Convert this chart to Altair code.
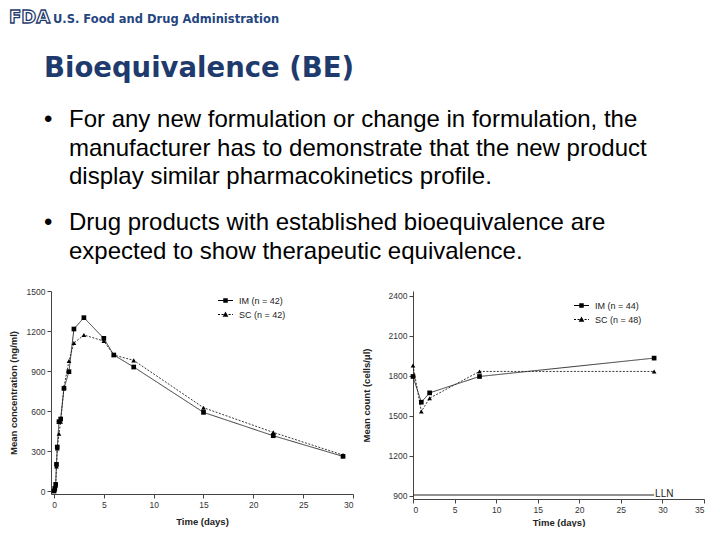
import altair as alt
import pandas as pd

# ---------------- slide text ----------------
agency_text = "U.S. Food and Drug Administration"
logo_text = "FDA"
title_text = "Bioequivalence (BE)"
bullet1_lines = [
    "For any new formulation or change in formulation, the",
    "manufacturer has to demonstrate that the new product",
    "display similar pharmacokinetics profile.",
]
bullet2_lines = [
    "Drug products with established bioequivalence are",
    "expected to show therapeutic equivalence.",
]

# ---------------- left panel: mean concentration ----------------
pk_groups = ["IM (n = 42)", "SC (n = 42)"]
pk_time = [0, 0.08, 0.17, 0.25, 0.33, 0.5, 0.67, 1, 1.5, 2, 3, 5, 6, 8, 15, 22, 29]
pk_im = [0, 20, 50, 200, 330, 520, 540, 770, 895, 1215, 1300, 1145, 1020, 930, 590, 415, 260]
pk_sc = [0, 10, 40, 185, 320, 430, 520, 780, 975, 1110, 1170, 1125, 1020, 980, 625, 440, 270]
pk_xticks = [0, 5, 10, 15, 20, 25, 30]
pk_yticks = [0, 300, 600, 900, 1200, 1500]

# ---------------- right panel: mean count ----------------
ly_groups = ["IM (n = 44)", "SC (n = 48)"]
ly_time = [0, 1, 2, 8, 29]
ly_im = [1795, 1602, 1672, 1795, 1933]
ly_sc = [1878, 1532, 1632, 1833, 1833]
ly_xticks = [0, 5, 10, 15, 20, 25, 30, 35]
ly_yticks = [900, 1200, 1500, 1800, 2100, 2400]
lln_value = [905]
lln_start = [0]
lln_end = [29]
lln_label = ["LLN"]

FONT = "Liberation Sans"
NAVY = "#1F3A6D"


# legend symbols (unit-square SVG paths): a thin bar (line) with the marker on it
def bar(x0, x1, t=0.06):
    return f"M{x0:.2f},{-t}H{x1:.2f}V{t}H{x0:.2f}Z"


solid_path = bar(-1, 1) + "M-0.3,-0.3H0.3V0.3H-0.3Z"
dash_segs = []
xs = -1.0
while xs < 1.0:
    dash_segs.append(bar(xs, min(xs + 0.27, 1.0)))
    xs += 0.47
dotted_path = "".join(dash_segs) + "M0,-0.4L0.38,0.3H-0.38Z"
LEG_SHAPES = [solid_path, dotted_path]
DASHES = [[1, 0], [2, 1.5]]


def long_df(times, a, b, groups):
    rows = []
    for t, v in zip(times, a):
        rows.append({"time": t, "value": v, "group": groups[0], "series": groups[0]})
    for t, v in zip(times, b):
        rows.append({"time": t, "value": v, "group": groups[1], "series": groups[1]})
    return pd.DataFrame(rows)


def panel(df, groups, xdom, ydom, xticks, yticks, ytitle, w, h, legx, legy,
          ytp, xtp, extra=None):
    xenc = alt.X("time:Q", scale=alt.Scale(domain=xdom, nice=False, zero=False),
                 axis=alt.Axis(values=xticks, title="Time (days)", titlePadding=xtp, format="d"))
    yenc = alt.Y("value:Q", scale=alt.Scale(domain=ydom, nice=False, zero=False),
                 axis=alt.Axis(values=yticks, title=ytitle, titlePadding=ytp, format="d"))
    base = alt.Chart(df)
    line = base.mark_line(color="#222", strokeWidth=0.9).encode(
        x=xenc, y=yenc,
        strokeDash=alt.StrokeDash("group:N", scale=alt.Scale(domain=groups, range=DASHES),
                                  legend=None),
    )
    pts = base.mark_point(filled=True, color="#000", size=22, opacity=1).encode(
        x=xenc, y=yenc,
        shape=alt.Shape("group:N", scale=alt.Scale(domain=groups, range=["square", "triangle-up"]),
                        legend=None),
    )
    leg = alt.Legend(title=None, orient="none", legendX=legx, legendY=legy,
                     symbolSize=225, labelFontSize=9, labelFont=FONT,
                     labelColor="#222", labelOffset=5,
                     symbolFillColor="#000", symbolOpacity=1)
    legend_layer = base.transform_filter("false").mark_point(
        filled=True, color="#000", size=225).encode(
        x=xenc, y=yenc,
        shape=alt.Shape("series:N", scale=alt.Scale(domain=groups, range=LEG_SHAPES), legend=leg),
    )
    layers = [line, pts, legend_layer]
    if extra is not None:
        layers += extra
    return alt.layer(*layers).resolve_scale(shape="independent").properties(width=w, height=h)


pk_df = long_df(pk_time, pk_im, pk_sc, pk_groups)
ly_df = long_df(ly_time, ly_im, ly_sc, ly_groups)

lln_df = pd.DataFrame({"x0": lln_start, "x1": lln_end, "y": lln_value, "label": lln_label})
lln_rule = alt.Chart(lln_df).mark_rule(color="#222", strokeWidth=1).encode(
    x=alt.X("x0:Q", title="Time (days)"), x2="x1:Q",
    y=alt.Y("y:Q", title="Mean count (cells/\u03bcl)"),
)
lln_text = alt.Chart(lln_df).mark_text(align="left", baseline="middle", dx=1, dy=-1,
                                       font=FONT, fontSize=10, color="#222").encode(
    x=alt.X("x1:Q", title="Time (days)"),
    y=alt.Y("y:Q", title="Mean count (cells/\u03bcl)"),
    text="label:N",
)

left = panel(pk_df, pk_groups, [-0.3, 30], [-22, 1500], pk_xticks, pk_yticks,
             "Mean concentration (ng/ml)", 302, 203, 166, 1, 8, 8)
right = panel(ly_df, ly_groups, [0, 35], [875, 2437], ly_xticks, ly_yticks,
              "Mean count (cells/\u03bcl)", 291, 208, 160, 6, 17, 4,
              extra=[lln_rule, lln_text])

# ---------------- header (slide text) ----------------
dummy = pd.DataFrame({"k": [0]})
HX = -43  # header group is aligned with the left plot column, not the page edge


def txt(s, x, y, size, color, font=FONT, weight="normal", **kw):
    return alt.Chart(dummy).mark_text(align="left", baseline="alphabetic", font=font,
                                      fontSize=size, fontWeight=weight, color=color, **kw).encode(
        x=alt.value(x + HX), y=alt.value(y), text=alt.value(s))


hdr = [
    txt(logo_text, 1, 15, 18, NAVY, font="DejaVu Sans", weight="bold",
        fill="white", stroke=NAVY, strokeWidth=1.3),
    txt(agency_text, 45, 15, 11.5, "#24467F", font="DejaVu Sans", weight="bold"),
    txt(title_text, 36, 69, 27.5, NAVY, font="DejaVu Sans", weight="bold"),
]
bullet_y = [119, 148, 176]
for i, s in enumerate(bullet1_lines):
    hdr.append(txt(s, 61, bullet_y[i], 24, "#000"))
hdr.append(txt("\u2022", 36, bullet_y[0], 24, "#000"))
bullet2_y = [222, 251]
for i, s in enumerate(bullet2_lines):
    hdr.append(txt(s, 61, bullet2_y[i], 24, "#000"))
hdr.append(txt("\u2022", 36, bullet2_y[0], 24, "#000"))

header = alt.layer(*hdr).properties(width=560, height=279)

chart = alt.concat(header, alt.hconcat(left, right, spacing=7), columns=1, spacing=0,
                   align="none").properties(
    padding=0, background="white"
).configure_view(stroke=None).configure_axis(
    grid=False, domainColor="#444", tickColor="#444", tickSize=4, domainWidth=1,
    labelFont=FONT, labelFontSize=8.5, labelColor="#333", labelPadding=2,
    titleFont=FONT, titleFontSize=9.5, titleFontWeight="bold", titleColor="#222",
).configure_legend(rowPadding=0)

chart.save("out.html", embed_options={"renderer": "svg", "actions": False})
